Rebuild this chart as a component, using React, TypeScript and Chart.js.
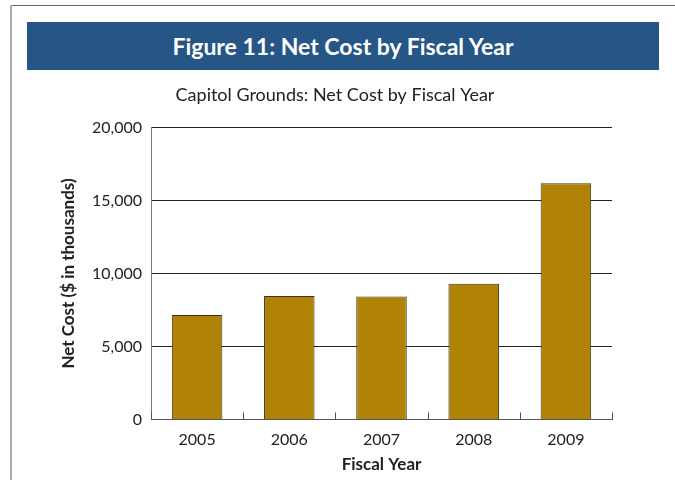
import React, { useEffect, useRef } from "react";
import { Chart, registerables } from "chart.js";

Chart.register(...registerables);

const categories = ["2005", "2006", "2007", "2008", "2009"];
const netCost = [7150, 8460, 8430, 9290, 16190];
const yTicks = [0, 5000, 10000, 15000, 20000];

const FONT = "Lato, 'Open Sans', sans-serif";

const categoryTicks = {
  id: "categoryTicks",
  afterDraw(chart: any) {
    const x = chart.scales.x;
    const ctx = chart.ctx;
    ctx.save();
    ctx.strokeStyle = "#555";
    ctx.lineWidth = 1;
    for (let i = 0; i <= categories.length; i++) {
      const px = Math.round(x.getPixelForValue(i - 0.5)) + 0.5;
      ctx.beginPath();
      ctx.moveTo(px, chart.chartArea.bottom);
      ctx.lineTo(px, chart.chartArea.bottom - 7);
      ctx.stroke();
    }
    ctx.restore();
  },
};

export default function App() {
  const ref = useRef<HTMLCanvasElement>(null);
  useEffect(() => {
    document.body.style.margin = "0";
    const chart = new Chart(ref.current!, {
      type: "bar",
      data: {
        labels: categories,
        datasets: [
          {
            data: netCost,
            backgroundColor: "#b08306",
            borderColor: "#3a3424",
            borderWidth: 1,
            categoryPercentage: 0.8,
            barPercentage: 0.685,
          },
        ],
      },
      plugins: [categoryTicks],
      options: {
        animation: false,
        responsive: false,
        maintainAspectRatio: false,
        layout: { padding: { left: 46, right: 63, top: 0, bottom: 5 } },
        plugins: {
          legend: { display: false },
          tooltip: { enabled: false },
          title: {
            display: true,
            text: "Capitol Grounds: Net Cost by Fiscal Year",
            color: "#222",
            font: { family: FONT, size: 18, weight: "normal" },
            padding: { top: 12, bottom: 22 },
          },
        },
        scales: {
          x: {
            grid: { display: false, drawTicks: false },
            border: { display: true, color: "#555", width: 1 },
            ticks: {
              color: "#222",
              font: { family: FONT, size: 16 },
              padding: 11,
            },
            title: {
              display: true,
              text: "Fiscal Year",
              color: "#222",
              font: { family: FONT, size: 17, weight: "bold" },
              padding: { top: -6, bottom: 0 },
            },
          },
          y: {
            min: 0,
            max: 20000,
            afterBuildTicks: (s: any) => {
              s.ticks = yTicks.map((v) => ({ value: v }));
            },
            afterFit: (s: any) => {
              s.width = 93;
            },
            grid: { color: "#222", lineWidth: 1, drawTicks: false },
            border: { display: true, color: "#777", width: 1 },
            ticks: {
              color: "#222",
              font: { family: FONT, size: 16 },
              padding: 9,
              callback: (v: any) => Number(v).toLocaleString("en-US"),
            },
            title: {
              display: true,
              text: "Net Cost ($ in thousands)",
              color: "#222",
              font: { family: FONT, size: 17, weight: "bold" },
              padding: 0,
            },
          },
        },
      },
    });
    return () => chart.destroy();
  }, []);

  return (
    <div style={{ position: "relative", width: 675, height: 480, background: "#fff", overflow: "hidden" }}>
      <div style={{ position: "absolute", left: 10, top: 5, width: 665, height: 1, background: "#666" }} />
      <div style={{ position: "absolute", left: 10, top: 5, width: 2, height: 475, background: "#aaa" }} />
      <div
        style={{
          position: "absolute",
          left: 27,
          top: 22,
          width: 632,
          height: 48,
          background: "#255685",
          color: "#fff",
          fontFamily: FONT,
          fontWeight: "bold",
          fontSize: 23,
          lineHeight: "48px",
          textAlign: "center",
        }}
      >
        Figure 11: Net Cost by Fiscal Year
      </div>
      <canvas
        ref={ref}
        width={663}
        height={408}
        style={{ position: "absolute", left: 12, top: 72, width: 663, height: 408 }}
      />
    </div>
  );
}
